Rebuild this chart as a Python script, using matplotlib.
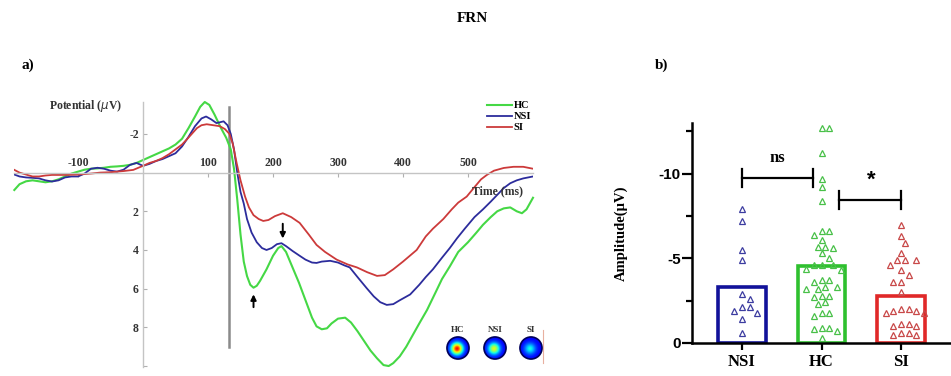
import numpy as np
import matplotlib
matplotlib.use("Agg")
import matplotlib.pyplot as plt
from matplotlib.patches import Circle

plt.rcParams["axes.unicode_minus"] = False

SERIF = "Liberation Serif"
SANS = "Liberation Sans"

# ---------------- ERP waveforms (time in ms, amplitude in µV) ----------------
hc_t = [-198, -190, -180, -170, -160, -150, -140, -130, -120, -110, -100, -90, -80, -70, -60,
        -50, -40, -30, -20, -10, 0, 10, 20, 30, 40, 50, 60, 70, 80, 88, 95, 102, 110, 120, 128,
        135, 140, 145, 150, 155, 160, 165, 170, 175, 180, 190, 200, 208, 213, 220, 230, 240, 250,
        260, 267, 275, 283, 290, 300, 311, 320, 330, 340, 350, 360, 370, 378, 385, 395, 405, 415,
        425, 437, 450, 460, 472, 485, 500, 513, 523, 535, 545, 555, 565, 575, 583, 590, 600]
hc_v = [0.9, 0.6, 0.45, 0.4, 0.45, 0.5, 0.45, 0.35, 0.2, 0.05, -0.05, -0.15, -0.2, -0.22, -0.25,
        -0.3, -0.32, -0.35, -0.4, -0.5, -0.65, -0.8, -0.95, -1.1, -1.25, -1.45, -1.75, -2.3, -2.9,
        -3.4, -3.65, -3.5, -3.0, -2.3, -1.8, -1.2, -0.2, 1.4, 3.2, 4.6, 5.35, 5.8, 5.95, 5.85, 5.6,
        5.0, 4.3, 3.9, 3.8, 4.1, 4.9, 5.7, 6.6, 7.5, 7.95, 8.1, 8.05, 7.8, 7.55, 7.5, 7.75, 8.2,
        8.7, 9.2, 9.6, 9.95, 10.0, 9.85, 9.5, 9.0, 8.4, 7.8, 7.1, 6.2, 5.5, 4.85, 4.1, 3.6, 3.1,
        2.7, 2.3, 2.0, 1.85, 1.8, 2.0, 2.1, 1.9, 1.3]

nsi_t = [-198, -190, -180, -170, -160, -150, -140, -130, -120, -110, -100, -90, -80, -70, -60,
         -50, -40, -30, -20, -10, 0, 10, 20, 30, 40, 50, 60, 70, 80, 90, 97, 105, 113, 118, 124,
         130, 135, 140, 145, 150, 155, 160, 167, 175, 183, 190, 198, 206, 213, 220, 230, 241, 250,
         260, 267, 275, 288, 300, 310, 318, 330, 344, 355, 365, 375, 385, 395, 411, 425, 435, 446,
         460, 472, 483, 495, 510, 523, 535, 545, 555, 565, 575, 585, 600]
nsi_v = [0.1, 0.2, 0.25, 0.27, 0.3, 0.4, 0.46, 0.4, 0.25, 0.2, 0.2, 0.05, -0.2, -0.25, -0.2,
         -0.1, -0.05, -0.15, -0.4, -0.5, -0.35, -0.45, -0.6, -0.7, -0.85, -1.0, -1.35, -1.85, -2.4,
         -2.8, -2.9, -2.75, -2.56, -2.6, -2.65, -2.45, -2.0, -1.2, 0.0, 1.0, 1.6, 2.4, 3.1, 3.6,
         3.9, 4.0, 3.9, 3.7, 3.65, 3.8, 4.05, 4.3, 4.5, 4.65, 4.67, 4.6, 4.56, 4.65, 4.8, 4.9, 5.4,
         5.97, 6.4, 6.7, 6.84, 6.8, 6.6, 6.3, 5.8, 5.4, 5.0, 4.4, 3.9, 3.4, 2.9, 2.3, 1.9, 1.5,
         1.15, 0.8, 0.55, 0.4, 0.3, 0.2]

si_t = [-198, -190, -180, -170, -160, -150, -140, -130, -120, -100, -80, -66, -50, -30, -15, 0,
        10, 20, 30, 40, 50, 60, 67, 75, 83, 90, 98, 108, 118, 126, 133, 138, 144, 150, 157, 163,
        170, 178, 185, 193, 203, 215, 228, 241, 255, 267, 280, 298, 315, 329, 345, 360, 372, 385,
        400, 421, 435, 446, 462, 475, 485, 498, 510, 520, 529, 540, 555, 570, 585, 600]
si_v = [-0.14, 0.0, 0.1, 0.2, 0.2, 0.15, 0.12, 0.12, 0.12, 0.1, 0.05, 0.0, -0.02, -0.08, -0.14,
        -0.35, -0.5, -0.6, -0.75, -0.95, -1.2, -1.45, -1.7, -2.0, -2.3, -2.45, -2.5, -2.45, -2.4,
        -2.25, -2.0, -1.5, -0.5, 0.4, 1.24, 1.8, 2.2, 2.4, 2.5, 2.45, 2.25, 2.1, 2.3, 2.6, 3.2,
        3.74, 4.1, 4.5, 4.75, 4.9, 5.15, 5.34, 5.3, 5.0, 4.6, 4.0, 3.3, 2.9, 2.4, 1.9, 1.55, 1.24,
        0.75, 0.35, 0.12, -0.1, -0.24, -0.3, -0.3, -0.2]

# ---------------- FRN amplitude per subject (µV) ----------------
groups = ["NSI", "HC", "SI"]
group_means = [-3.3, -4.55, -2.8]
nsi_amp = [-7.9, -7.2, -5.5, -4.9, -2.9, -2.6, -2.1, -1.8, -1.9, -2.1, -1.4, -0.6]
hc_amp = [-12.7, -12.7, -11.2, -9.7, -9.2, -8.4, -6.6, -6.6, -6.4, -6.1, -5.7, -5.6, -5.7, -5.3,
          -5.0, -4.6, -4.6, -4.6, -4.4, -4.3, -3.7, -3.6, -3.7, -3.3, -3.2, -3.3, -3.2, -2.8,
          -2.7, -2.8, -2.4, -2.3, -1.8, -1.6, -1.8, -0.9, -0.7, -0.8, -0.9, -0.3]
si_amp = [-7.0, -6.3, -5.9, -5.3, -4.9, -4.9, -4.9, -4.6, -4.3, -4.0, -3.6, -3.6, -3.0, -2.0,
          -1.9, -1.8, -1.8, -1.9, -2.0, -1.1, -1.0, -1.0, -1.1, -0.6, -0.5, -0.5, -0.6]

# topographic peak intensity (normalised colour scale)
topo_labels = ["HC", "NSI", "SI"]
topo_peaks = [0.9, 0.62, 0.38]

C_HC, C_NSI, C_SI = "#45d845", "#2c2c9c", "#cc3a3a"

W, H = 951, 376
fig = plt.figure(figsize=(W / 100, H / 100), dpi=100)


def rect(x0, y0, x1, y1):
    return [x0 / W, 1 - y1 / H, (x1 - x0) / W, (y1 - y0) / H]


# ======================= a) waveforms =======================
ax = fig.add_axes(rect(14, 102, 533, 367))
ax.set_xlim(-198.5, 600)
ax.set_ylim(10.05, -3.65)
for s in ("top", "right"):
    ax.spines[s].set_visible(False)
ax.spines["left"].set_position(("data", 0))
ax.spines["bottom"].set_position(("data", 0))
for s in ("left", "bottom"):
    ax.spines[s].set_color("#c4c4c4")
    ax.spines[s].set_linewidth(1.0)

ax.plot(hc_t, hc_v, color=C_HC, lw=1.5, label="HC", clip_on=False)
ax.plot(nsi_t, nsi_v, color=C_NSI, lw=1.3, label="NSI")
ax.plot(si_t, si_v, color=C_SI, lw=1.3, label="SI")

ax.plot([132, 132], [-3.4, 9.0], color="#8a8a8a", lw=1.8, zorder=1)

ax.set_xticks([-100, 100, 200, 300, 400, 500])
ax.set_yticks([-2, 2, 4, 6, 8, 10])
ax.set_yticklabels(["-2", "2", "4", "6", "8", ""])
ax.tick_params(axis="x", direction="out", length=3, width=0.8, color="#b0b0b0",
               pad=-14, labelsize=8.5, labelcolor="#333333")
ax.tick_params(axis="y", direction="in", length=3, width=0.8, color="#b0b0b0",
               pad=3, labelsize=8.5, labelcolor="#333333")
for lab in ax.get_xticklabels() + ax.get_yticklabels():
    lab.set_fontfamily(SERIF)
    lab.set_fontweight("bold")

ax.annotate("", xy=(215, 3.55), xytext=(215, 2.5),
            arrowprops=dict(arrowstyle="-|>", color="black", lw=1.4, mutation_scale=8))
ax.annotate("", xy=(170, 6.15), xytext=(170, 7.1),
            arrowprops=dict(arrowstyle="-|>", color="black", lw=1.4, mutation_scale=8))

leg = ax.legend(loc="upper left", bbox_to_anchor=(482 / W, 1 - 96 / H),
                bbox_transform=fig.transFigure, frameon=False, handlelength=2.4,
                handletextpad=0.15, labelspacing=0.15, borderpad=0,
                prop=dict(family=SERIF, weight="bold", size=7.5))

fig.text(86 / W, 1 - 106 / H, "Potential ($\\mu$V)", ha="center", va="center",
         family=SERIF, weight="bold", size=8.5, color="#333333")
fig.text(498 / W, 1 - 191 / H, "Time (ms)", ha="center", va="center",
         family=SERIF, weight="bold", size=8.5, color="#333333")

# scalp maps
yy, xx = np.mgrid[-1:1:80j, -1:1:80j]
for lab, pk, cx in zip(topo_labels, topo_peaks, [458, 495, 531]):
    tax = fig.add_axes(rect(cx - 12, 336, cx + 12, 360))
    r2 = (xx + 0.08) ** 2 + (yy + 0.05) ** 2
    field = 0.12 + (pk - 0.12) * np.exp(-r2 / (2 * 0.33 ** 2))
    im = tax.imshow(field, cmap="jet", vmin=0, vmax=1, extent=(-1, 1, -1, 1), origin="lower")
    circ = Circle((0, 0), 0.92, transform=tax.transData)
    im.set_clip_path(circ)
    tax.add_patch(Circle((0, 0), 0.92, fill=False, ec="#00005a", lw=1.2))
    tax.set_xlim(-1, 1)
    tax.set_ylim(-1, 1)
    tax.axis("off")
    fig.text(cx / W, 1 - 330 / H, lab, ha="center", va="center",
             family=SERIF, weight="bold", size=6.5, color="#333333")
fig.add_artist(plt.Line2D([543 / W, 543 / W], [1 - 330 / H, 1 - 363 / H],
                          color="#e8b0a0", lw=0.8))

# ======================= b) amplitudes =======================
bx = fig.add_axes(rect(692, 123, 950, 343))
bx.set_xlim(-0.629, 2.616)
bx.set_ylim(0, -13)
for s in ("top", "right"):
    bx.spines[s].set_visible(False)
for s in ("left", "bottom"):
    bx.spines[s].set_linewidth(1.8)

bar_cols = ["#12129a", "#2ec02e", "#e02828"]
pt_cols = ["#3c3ca0", "#48c048", "#c84848"]
bx.bar(range(3), group_means, width=0.6, fill=False, edgecolor=bar_cols, linewidth=2.6, zorder=2)

fig.canvas.draw()
ppu_x = bx.bbox.width / (2.616 + 0.629)
ppu_y = bx.bbox.height / 13.0


def swarm(vals, dist=7.6):
    placed = []
    offs = np.zeros(len(vals))
    order = np.argsort(np.abs(np.asarray(vals)))[::-1]
    cands = [0.0]
    for k in range(1, 16):
        cands += [k * dist * 0.5, -k * dist * 0.5]
    for i in order:
        y = vals[i] * ppu_y
        for c in cands:
            if all((c - px) ** 2 + (y - py) ** 2 >= dist ** 2 for px, py in placed):
                placed.append((c, y))
                offs[i] = c / ppu_x
                break
    return offs


for gi, (vals, col) in enumerate(zip([nsi_amp, hc_amp, si_amp], pt_cols)):
    off = swarm(vals)
    bx.plot(gi + off, vals, ls="none", marker="^", ms=4.0, mfc="none", mec=col, mew=0.9,
            zorder=3, clip_on=False)

bx.set_yticks([0, -5, -10])
bx.set_yticks([-2.5, -7.5, -12.5], minor=True)
bx.tick_params(axis="y", which="major", length=7, width=1.6, pad=1, labelsize=11)
bx.tick_params(axis="y", which="minor", length=4, width=1.6)
bx.set_xticks(range(3))
bx.set_xticklabels(groups)
bx.tick_params(axis="x", length=5, width=1.6, pad=3, labelsize=12)
for lab in bx.get_yticklabels():
    lab.set_fontfamily(SANS)
    lab.set_fontweight("bold")
for lab in bx.get_xticklabels():
    lab.set_fontfamily(SERIF)
    lab.set_fontweight("bold")

# significance brackets
bx.plot([0, 0.89], [-9.75, -9.75], color="black", lw=1.6)
bx.plot([0, 0], [-9.22, -10.28], color="black", lw=1.6)
bx.plot([0.89, 0.89], [-9.22, -10.28], color="black", lw=1.6)
bx.text(0.45, -10.45, "ns", ha="center", va="bottom", family=SERIF, weight="bold", size=12)
bx.plot([1.22, 2.0], [-8.45, -8.45], color="black", lw=1.6)
bx.plot([1.22, 1.22], [-7.92, -8.98], color="black", lw=1.6)
bx.plot([2.0, 2.0], [-7.92, -8.98], color="black", lw=1.6)
bx.text(1.62, -9.0, "*", ha="center", va="bottom", family=SANS, weight="bold", size=16)

fig.text(621 / W, 1 - 233 / H, "Amplitude(µV)", rotation=90, ha="center", va="center",
         family=SERIF, weight="bold", size=10.5)

# titles
fig.text(472 / W, 1 - 18 / H, "FRN", ha="center", va="center", family=SERIF, weight="bold", size=11)
fig.text(28 / W, 1 - 65 / H, "a)", ha="center", va="center", family=SERIF, weight="bold", size=11)
fig.text(662 / W, 1 - 65 / H, "b)", ha="center", va="center", family=SERIF, weight="bold", size=11)

fig.savefig("out.png", dpi=100)
